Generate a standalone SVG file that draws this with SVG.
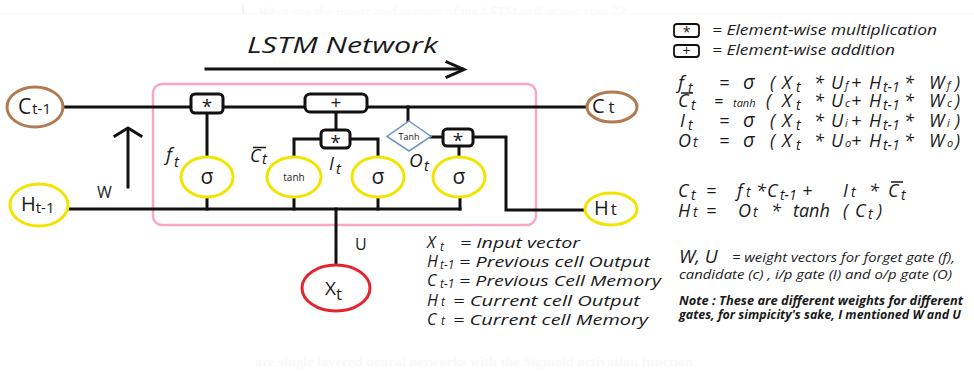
<svg xmlns="http://www.w3.org/2000/svg" width="974" height="373" viewBox="0 0 974 373">
<style>
text{font-family:"Open Sans","Liberation Sans",sans-serif;fill:#1a1a1a}
.it{font-style:italic}
.ln{fill:none;stroke:#111;stroke-width:3;stroke-linecap:square}
.box{fill:#fff;stroke:#111;stroke-width:3}
.sig{fill:#fff;stroke:#f3e400;stroke-width:3}
.sy{font-size:21px;text-anchor:middle}
.sm{font-size:10px;text-anchor:middle}
.eq{font-style:italic;font-size:18px}
.lg{font-style:italic;font-size:15px}
.faint{fill:#f9f9f9;font-family:"Liberation Serif",serif}
</style>
<defs>
<clipPath id="topclip"><rect x="0" y="0" width="974" height="14"/></clipPath>
</defs>
<rect width="974" height="373" fill="#fff"/>
<g id="faint-text">
<line x1="0" y1="14" x2="974" y2="14" stroke="#fafafa" stroke-width="1"/>
<rect x="242" y="4" width="2" height="10" fill="#f3f3f3"/>
<text class="faint" x="258" y="18" font-size="16" font-style="italic" clip-path="url(#topclip)" textLength="367" lengthAdjust="spacingAndGlyphs">What are the inputs and outputs of the LSTM cell at any step ??</text>
<text class="faint" x="255" y="366" font-size="12" font-weight="bold" textLength="438" lengthAdjust="spacingAndGlyphs">are single layered neural networks with the Sigmoid activation function</text>
</g>
<g id="title">
<text class="it" x="247" y="53" font-size="22" textLength="191" lengthAdjust="spacingAndGlyphs">LSTM Network</text>
<line class="ln" x1="206" y1="69" x2="462" y2="69"/>
<polyline class="ln" points="447,62 464,69.5 447,77" stroke-linecap="round" stroke-linejoin="miter"/>
</g>
<rect id="cell" x="153" y="84" width="383" height="141" rx="9" fill="none" stroke="#f5a9c4" stroke-width="2.5"/>
<g id="connectors">
<line class="ln" x1="63" y1="107" x2="191" y2="107"/>
<line class="ln" x1="223" y1="107" x2="305" y2="107"/>
<line class="ln" x1="367" y1="107" x2="587" y2="107"/>
<line class="ln" x1="207" y1="113" x2="207" y2="157"/>
<line class="ln" x1="336" y1="112" x2="336" y2="130"/>
<polyline class="ln" points="350,139 378,139 378,157"/>
<polyline class="ln" points="321,139 294,139 294,157"/>
<line class="ln" x1="408" y1="107" x2="408" y2="121"/>
<line class="ln" x1="431" y1="137" x2="443" y2="137"/>
<line class="ln" x1="459" y1="146" x2="459" y2="157"/>
<polyline class="ln" points="473,137 506,137 506,210 585,210"/>
<line class="ln" x1="68" y1="209" x2="460" y2="209"/>
<line class="ln" x1="207" y1="197" x2="207" y2="209"/>
<line class="ln" x1="294" y1="197" x2="294" y2="209"/>
<line class="ln" x1="378" y1="197" x2="378" y2="209"/>
<line class="ln" x1="460" y1="197" x2="460" y2="209"/>
<line class="ln" x1="336" y1="209" x2="336" y2="265"/>
<line class="ln" x1="128" y1="187" x2="128" y2="129"/>
<polyline class="ln" points="115,136 128,128 141,136" stroke-linecap="round"/>
<text x="97" y="198" font-size="16">W</text>
<text x="355" y="250" font-size="16">U</text>
</g>
<g id="c_prev">
<ellipse cx="35" cy="107" rx="28" ry="20" fill="#fff" stroke="#b27a52" stroke-width="3"/>
<text x="18" y="114" font-size="21">C<tspan font-size="15" dx="1">t-1</tspan></text>
</g>
<g id="h_prev">
<ellipse cx="39" cy="205" rx="29" ry="21" fill="#fff" stroke="#f3e400" stroke-width="3"/>
<text x="21" y="211" font-size="20">H<tspan font-size="15" dy="2">t-1</tspan></text>
</g>
<g id="c_t">
<ellipse cx="612" cy="107" rx="25" ry="15" fill="#fff" stroke="#b27a52" stroke-width="3"/>
<text x="592" y="113" font-size="20">C<tspan font-size="17" dx="4">t</tspan></text>
</g>
<g id="h_t">
<ellipse cx="611" cy="209" rx="26" ry="16" fill="#fff" stroke="#f3e400" stroke-width="3"/>
<text x="594" y="215" font-size="20">H<tspan font-size="17" dx="2">t</tspan></text>
</g>
<g id="x_t">
<ellipse cx="336" cy="288" rx="34" ry="23" fill="#fff" stroke="#e3262e" stroke-width="3"/>
<text x="325" y="295" font-size="19">X<tspan font-size="17" dy="5">t</tspan></text>
</g>
<g id="forget_mult">
<rect class="box" x="191" y="94" width="32" height="19" rx="4"/>
<text x="207" y="113" font-size="19" text-anchor="middle">*</text>
</g>
<g id="add">
<rect class="box" x="305" y="94" width="62" height="18" rx="5"/>
<text x="336" y="109" font-size="19" text-anchor="middle">+</text>
</g>
<g id="input_mult">
<rect class="box" x="321" y="130" width="29" height="18" rx="4"/>
<text x="335.5" y="149" font-size="19" text-anchor="middle">*</text>
</g>
<g id="output_mult">
<rect class="box" x="443" y="129" width="30" height="17" rx="4"/>
<text x="458" y="147" font-size="19" text-anchor="middle">*</text>
</g>
<g id="tanh_out">
<polygon points="409,121 431,136.5 409,151 387,136.5" fill="#fff" stroke="#6f92c8" stroke-width="1.5"/>
<text x="409" y="139.5" font-size="9" text-anchor="middle" fill="#333">Tanh</text>
</g>
<g id="forget_gate">
<ellipse class="sig" cx="207" cy="177" rx="26" ry="20"/>
<text class="sy" x="207" y="184">σ</text>
<text class="it" x="166" y="161" font-size="19">f</text><text class="it" x="174" y="167" font-size="15">t</text>
</g>
<g id="candidate">
<ellipse class="sig" cx="294" cy="177" rx="27" ry="20"/>
<text class="sm" x="294" y="181">tanh</text>
<text class="it" x="250" y="162" font-size="18">C</text><text class="it" x="262" y="164" font-size="15">t</text>
<line x1="253" y1="147.5" x2="266" y2="147.5" stroke="#1a1a1a" stroke-width="1.5"/>
</g>
<g id="input_gate">
<ellipse class="sig" cx="378" cy="177" rx="26" ry="20"/>
<text class="sy" x="378" y="184">σ</text>
<text class="it" x="329" y="170" font-size="18">I</text><text class="it" x="336" y="174" font-size="15">t</text>
</g>
<g id="output_gate">
<ellipse class="sig" cx="459" cy="177" rx="26" ry="20"/>
<text class="sy" x="459" y="184">σ</text>
<text class="it" x="409" y="167" font-size="19">O</text><text class="it" x="424" y="171" font-size="15">t</text>
</g>
<g id="legend-vars">
<text class="lg" x="427" y="248"><tspan font-size="16">X</tspan><tspan font-size="12" dy="3" x="440">t</tspan><tspan dy="-3" x="460" textLength="120" lengthAdjust="spacingAndGlyphs">= Input vector</tspan></text>
<text class="lg" x="427" y="267"><tspan font-size="16">H</tspan><tspan font-size="12" dy="2" x="440">t-1</tspan><tspan dy="-2" x="459" textLength="191" lengthAdjust="spacingAndGlyphs">= Previous cell Output</tspan></text>
<text class="lg" x="427" y="286"><tspan font-size="16">C</tspan><tspan font-size="12" dy="2" x="440">t-1</tspan><tspan dy="-2" x="459" textLength="202" lengthAdjust="spacingAndGlyphs">= Previous Cell Memory</tspan></text>
<text class="lg" x="427" y="306"><tspan font-size="16">H</tspan><tspan font-size="12" x="441">t</tspan><tspan x="453" textLength="187" lengthAdjust="spacingAndGlyphs">= Current cell Output</tspan></text>
<text class="lg" x="427" y="325"><tspan font-size="16">C</tspan><tspan font-size="12" x="441">t</tspan><tspan x="453" textLength="195" lengthAdjust="spacingAndGlyphs">= Current cell Memory</tspan></text>
</g>
<g id="legend-ops">
<rect x="674" y="24" width="25" height="13" rx="3" fill="#fff" stroke="#111" stroke-width="1.8"/>
<text x="686.5" y="37" font-size="14" text-anchor="middle">*</text>
<text class="it" x="712" y="35" font-size="15" textLength="225" lengthAdjust="spacingAndGlyphs">= Element-wise multiplication</text>
<rect x="674" y="45" width="25" height="12" rx="3" fill="#fff" stroke="#111" stroke-width="1.8"/>
<text x="686.5" y="56" font-size="14" text-anchor="middle">+</text>
<text class="it" x="712" y="55" font-size="15" textLength="183" lengthAdjust="spacingAndGlyphs">= Element-wise addition</text>
</g>
<g id="equations">
<text class="eq" y="89"><tspan x="678" font-size="19">f</tspan><tspan x="688" dy="4" font-size="14">t</tspan><tspan x="719" dy="-4">=</tspan><tspan x="743" font-size="20">σ</tspan><tspan x="770">(</tspan><tspan x="782">X</tspan><tspan x="796" dy="3" font-size="14">t</tspan><tspan x="814" dy="-3">*</tspan><tspan x="831">U</tspan><tspan x="845" font-size="11">f</tspan><tspan x="851">+</tspan><tspan x="869">H</tspan><tspan x="883" dy="3" font-size="14">t-1</tspan><tspan x="904" dy="-3">*</tspan><tspan x="929">W</tspan><tspan x="947" font-size="11">f</tspan><tspan x="955">)</tspan></text>
<text class="eq" y="107"><tspan x="678">C</tspan><tspan x="691" dy="3" font-size="14">t</tspan><tspan x="714" dy="-3" font-size="16">=</tspan><tspan x="733" font-size="11">tanh</tspan><tspan x="766">(</tspan><tspan x="782">X</tspan><tspan x="796" dy="3" font-size="14">t</tspan><tspan x="814" dy="-3">*</tspan><tspan x="831">U</tspan><tspan x="845" font-size="11">c</tspan><tspan x="851">+</tspan><tspan x="869">H</tspan><tspan x="883" dy="3" font-size="14">t-1</tspan><tspan x="904" dy="-3">*</tspan><tspan x="929">W</tspan><tspan x="947" font-size="11">c</tspan><tspan x="955">)</tspan></text>
<line x1="681" y1="93" x2="693" y2="93" stroke="#1a1a1a" stroke-width="1.5"/>
<text class="eq" y="127"><tspan x="680">I</tspan><tspan x="688" dy="3" font-size="14">t</tspan><tspan x="719" dy="-3">=</tspan><tspan x="743" font-size="20">σ</tspan><tspan x="770">(</tspan><tspan x="782">X</tspan><tspan x="796" dy="3" font-size="14">t</tspan><tspan x="814" dy="-3">*</tspan><tspan x="831">U</tspan><tspan x="845" font-size="11">i</tspan><tspan x="851">+</tspan><tspan x="869">H</tspan><tspan x="883" dy="3" font-size="14">t-1</tspan><tspan x="904" dy="-3">*</tspan><tspan x="929">W</tspan><tspan x="947" font-size="11">i</tspan><tspan x="955">)</tspan></text>
<text class="eq" y="147"><tspan x="678">O</tspan><tspan x="693" font-size="14">t</tspan><tspan x="719">=</tspan><tspan x="743" font-size="20">σ</tspan><tspan x="770">(</tspan><tspan x="782">X</tspan><tspan x="796" dy="3" font-size="14">t</tspan><tspan x="814" dy="-3">*</tspan><tspan x="831">U</tspan><tspan x="845" font-size="11">o</tspan><tspan x="851">+</tspan><tspan x="869">H</tspan><tspan x="883" dy="3" font-size="14">t-1</tspan><tspan x="904" dy="-3">*</tspan><tspan x="929">W</tspan><tspan x="947" font-size="11">o</tspan><tspan x="955">)</tspan></text>
<text class="eq" y="197"><tspan x="678">C</tspan><tspan x="691" dy="3" font-size="14">t</tspan><tspan x="706" dy="-3">=</tspan><tspan x="737">f</tspan><tspan x="746" font-size="14">t</tspan><tspan x="756">*</tspan><tspan x="767">C</tspan><tspan x="780" dy="3" font-size="14">t-1</tspan><tspan x="802" dy="-3">+</tspan><tspan x="843">I</tspan><tspan x="851" font-size="14">t</tspan><tspan x="869">*</tspan><tspan x="888">C</tspan><tspan x="901" dy="3" font-size="14">t</tspan></text>
<line x1="891" y1="182" x2="903" y2="182" stroke="#1a1a1a" stroke-width="1.5"/>
<text class="eq" y="217"><tspan x="678">H</tspan><tspan x="693" font-size="14">t</tspan><tspan x="706">=</tspan><tspan x="738">O</tspan><tspan x="753" font-size="14">t</tspan><tspan x="771">*</tspan><tspan x="793">tanh</tspan><tspan x="843">(</tspan><tspan x="855">C</tspan><tspan x="868" dy="2" font-size="14">t</tspan><tspan x="877" dy="-2">)</tspan></text>
</g>
<g id="notes">
<text class="it" x="679" y="263" font-size="19">W, U</text>
<text class="it" x="732" y="262" font-size="13" textLength="223" lengthAdjust="spacingAndGlyphs">= weight vectors for forget gate (f),</text>
<text class="it" x="679" y="279" font-size="13" textLength="273" lengthAdjust="spacingAndGlyphs">candidate (c) , i/p gate (I) and o/p gate (O)</text>
<text class="it" x="679" y="305" font-size="12" font-weight="bold" fill="#333" textLength="284" lengthAdjust="spacingAndGlyphs">Note : These are different weights for different</text>
<text class="it" x="679" y="319" font-size="12" font-weight="bold" fill="#333" textLength="282" lengthAdjust="spacingAndGlyphs">gates, for simpicity's sake, I mentioned W and U</text>
</g>
</svg>
